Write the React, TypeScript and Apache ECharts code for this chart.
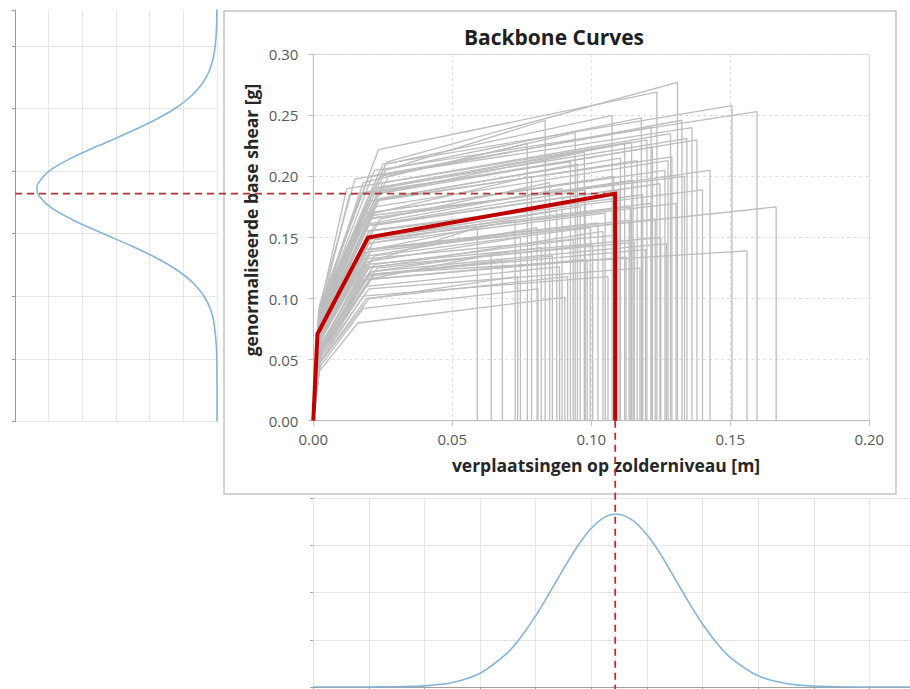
import React, { useEffect, useRef } from 'react';
import * as echarts from 'echarts';

// ---- main chart data ----
const xTickValues = [0, 0.05, 0.1, 0.15, 0.2];
const yTickValues = [0, 0.05, 0.1, 0.15, 0.2, 0.25, 0.3];

// red mean backbone curve: [displacement m, base shear g]
const redCurve: number[][] = [
  [0, 0],
  [0.0015, 0.071],
  [0.0197, 0.15],
  [0.1086, 0.186],
  [0.1086, 0],
];

// gray backbone curves: [x1, y1, x2, y2, xu, yu] (each drops to 0 at xu)
const grayCurves: number[][] = [
  [0.003, 0.062, 0.020, 0.130, 0.059, 0.158],
  [0.002, 0.055, 0.018, 0.115, 0.064, 0.136],
  [0.003, 0.058, 0.022, 0.120, 0.068, 0.131],
  [0.002, 0.066, 0.021, 0.140, 0.0726, 0.164],
  [0.003, 0.060, 0.019, 0.130, 0.0745, 0.150],
  [0.002, 0.088, 0.018, 0.195, 0.077, 0.227],
  [0.003, 0.078, 0.022, 0.170, 0.0785, 0.200],
  [0.002, 0.063, 0.020, 0.135, 0.0805, 0.158],
  [0.003, 0.092, 0.026, 0.205, 0.0834, 0.246],
  [0.002, 0.075, 0.024, 0.165, 0.085, 0.195],
  [0.003, 0.068, 0.020, 0.145, 0.0876, 0.172],
  [0.002, 0.050, 0.019, 0.110, 0.0886, 0.126],
  [0.002, 0.040, 0.016, 0.080, 0.0905, 0.101],
  [0.003, 0.090, 0.027, 0.200, 0.0942, 0.236],
  [0.002, 0.070, 0.021, 0.150, 0.096, 0.175],
  [0.002, 0.074, 0.020, 0.160, 0.0978, 0.189],
  [0.003, 0.064, 0.022, 0.135, 0.0996, 0.158],
  [0.002, 0.066, 0.018, 0.140, 0.1024, 0.162],
  [0.003, 0.058, 0.020, 0.125, 0.1042, 0.155],
  [0.003, 0.095, 0.026, 0.210, 0.1075, 0.250],
  [0.002, 0.074, 0.022, 0.160, 0.110, 0.189],
  [0.002, 0.086, 0.021, 0.190, 0.112, 0.227],
  [0.002, 0.065, 0.019, 0.140, 0.1136, 0.164],
  [0.002, 0.076, 0.020, 0.165, 0.115, 0.197],
  [0.003, 0.082, 0.023, 0.180, 0.1165, 0.213],
  [0.003, 0.092, 0.025, 0.205, 0.118, 0.248],
  [0.003, 0.086, 0.024, 0.190, 0.120, 0.230],
  [0.002, 0.084, 0.021, 0.185, 0.122, 0.224],
  [0.003, 0.098, 0.0235, 0.222, 0.1236, 0.269],
  [0.002, 0.073, 0.020, 0.160, 0.1247, 0.194],
  [0.002, 0.078, 0.019, 0.170, 0.1265, 0.205],
  [0.003, 0.080, 0.022, 0.175, 0.1276, 0.213],
  [0.002, 0.082, 0.020, 0.180, 0.129, 0.216],
  [0.003, 0.096, 0.0265, 0.212, 0.131, 0.277],
  [0.003, 0.090, 0.024, 0.200, 0.1326, 0.246],
  [0.002, 0.086, 0.022, 0.190, 0.1344, 0.231],
  [0.002, 0.092, 0.015, 0.198, 0.1362, 0.240],
  [0.002, 0.085, 0.017, 0.185, 0.138, 0.230],
  [0.002, 0.071, 0.020, 0.155, 0.140, 0.189],
  [0.002, 0.076, 0.018, 0.165, 0.1427, 0.205],
  [0.003, 0.094, 0.025, 0.210, 0.1506, 0.258],
  [0.002, 0.056, 0.020, 0.120, 0.156, 0.139],
  [0.003, 0.092, 0.022, 0.205, 0.1596, 0.253],
  [0.002, 0.064, 0.021, 0.140, 0.1665, 0.175],
  [0.002, 0.046, 0.019, 0.100, 0.0915, 0.118],
  [0.003, 0.057, 0.021, 0.122, 0.082, 0.142],
  [0.002, 0.055, 0.018, 0.118, 0.086, 0.135],
  [0.003, 0.058, 0.023, 0.125, 0.1005, 0.144],
  [0.002, 0.067, 0.019, 0.145, 0.105, 0.170],
  [0.002, 0.069, 0.021, 0.150, 0.1215, 0.178],
  [0.002, 0.059, 0.019, 0.128, 0.125, 0.150],
  [0.003, 0.056, 0.022, 0.120, 0.1195, 0.140],
  [0.002, 0.078, 0.020, 0.170, 0.108, 0.200],
  [0.002, 0.071, 0.018, 0.155, 0.1185, 0.185],
  [0.002, 0.082, 0.021, 0.180, 0.095, 0.210],
  [0.003, 0.083, 0.024, 0.182, 0.1105, 0.215],
  [0.002, 0.050, 0.020, 0.108, 0.1175, 0.125],
  [0.002, 0.064, 0.019, 0.138, 0.123, 0.165],
  [0.002, 0.074, 0.017, 0.160, 0.0895, 0.190],
  [0.002, 0.057, 0.021, 0.122, 0.127, 0.145],
  [0.003, 0.060, 0.022, 0.128, 0.0935, 0.148],
  [0.003, 0.068, 0.022, 0.148, 0.114, 0.175],
  [0.002, 0.047, 0.018, 0.102, 0.106, 0.118],
  [0.003, 0.085, 0.023, 0.186, 0.0975, 0.220],
  [0.003, 0.088, 0.025, 0.195, 0.1285, 0.235],
  [0.002, 0.077, 0.021, 0.168, 0.1335, 0.200],
  [0.002, 0.091, 0.020, 0.200, 0.1215, 0.240],
  [0.002, 0.053, 0.017, 0.115, 0.1125, 0.134],
  [0.002, 0.046, 0.020, 0.100, 0.0735, 0.118],
  [0.002, 0.043, 0.018, 0.092, 0.0808, 0.108],
  [0.002, 0.088, 0.012, 0.190, 0.1145, 0.228],
  [0.002, 0.084, 0.013, 0.185, 0.0925, 0.212],
  [0.002, 0.062, 0.017, 0.132, 0.1092, 0.152],
  [0.003, 0.060, 0.020, 0.126, 0.1155, 0.146],
  [0.002, 0.069, 0.019, 0.148, 0.1305, 0.178],
  [0.002, 0.054, 0.021, 0.116, 0.0985, 0.132],
];

// ---- left panel: distribution of base shear (rotated) ----
const leftShear = [
  0, 0.02, 0.04, 0.06, 0.08, 0.09, 0.1, 0.11, 0.12, 0.13, 0.14, 0.15, 0.16, 0.17, 0.18, 0.186,
  0.19, 0.2, 0.21, 0.22, 0.23, 0.24, 0.25, 0.26, 0.27, 0.28, 0.29, 0.3, 0.31, 0.32, 0.33,
];
const leftDensity = [
  0, 0, 0.005, 0.038, 0.196, 0.4, 0.77, 1.37, 2.27, 3.51, 5.04, 6.75, 8.41, 9.77, 10.56, 10.7,
  10.64, 9.98, 8.72, 7.09, 5.38, 3.8, 2.49, 1.53, 0.87, 0.46, 0.23, 0.106, 0.045, 0.018, 0.006,
];

// ---- bottom panel: distribution of displacement ----
const bottomDisp = [
  0, 0.01, 0.02, 0.03, 0.04, 0.05, 0.06, 0.07, 0.075, 0.08, 0.085, 0.09, 0.095, 0.1, 0.105, 0.109,
  0.115, 0.12, 0.125, 0.13, 0.135, 0.14, 0.145, 0.15, 0.16, 0.17, 0.18, 0.19, 0.2, 0.21, 0.22,
];
const bottomDensity = [
  0, 0, 0, 0.03, 0.12, 0.47, 1.46, 3.67, 5.42, 7.55, 9.98, 12.5, 14.9, 16.8, 18.0, 18.3,
  17.6, 16.1, 14.0, 11.5, 8.99, 6.66, 4.68, 3.12, 1.18, 0.37, 0.09, 0.02, 0, 0, 0,
];

const TITLE = 'Backbone Curves';
const X_NAME = 'verplaatsingen op zolderniveau [m]';
const Y_NAME = 'genormaliseerde base shear [g]';

const FONT = '"Open Sans", "Liberation Sans", sans-serif';

export default function App() {
  const ref = useRef<HTMLDivElement>(null);

  useEffect(() => {
    document.body.style.margin = '0';
    const el = ref.current;
    if (!el) return;
    const chart = echarts.init(el, null, { renderer: 'svg' });

    const fmt = (v: number) => v.toFixed(2);

    const graySeries = grayCurves.map((c) => ({
      type: 'line',
      xAxisIndex: 0,
      yAxisIndex: 0,
      data: [[0, 0], [c[0], c[1]], [c[2], c[3]], [c[4], c[5]], [c[4], 0]],
      symbol: 'none',
      silent: true,
      z: 2,
      lineStyle: { color: '#bdbdbd', width: 1.3 },
    }));

    const option: any = {
      animation: false,
      grid: [
        { left: 313.3, top: 54.3, width: 556, height: 366.4, show: true, borderColor: '#d0d0d0', borderWidth: 1, backgroundColor: 'transparent' },
        { left: 15, top: 10, width: 202, height: 411.5 },
        { left: 313.3, top: 498, width: 596.7, height: 189 },
      ],
      xAxis: [
        {
          gridIndex: 0, type: 'value',
          min: xTickValues[0], max: xTickValues[xTickValues.length - 1], interval: xTickValues[1] - xTickValues[0],
          axisLine: { show: true, onZero: false, lineStyle: { color: '#bfbfbf', width: 1 } },
          axisTick: { show: true, length: 5, lineStyle: { color: '#bfbfbf' } },
          axisLabel: { formatter: fmt, color: '#595959', fontSize: 15, fontFamily: FONT, margin: 11 },
          splitLine: { show: true, lineStyle: { color: '#dedede', type: [3, 3] } },
        },
        {
          gridIndex: 1, type: 'value', inverse: true, min: 0, max: 12, interval: 2,
          axisLine: { show: false, onZero: false },
          axisTick: { show: false },
          axisLabel: { show: false },
          splitLine: { show: true, lineStyle: { color: '#e6e6e6' } },
        },
        {
          gridIndex: 2, type: 'value', min: 0, max: 0.2146, interval: 0.02,
          axisLine: { show: true, onZero: false, lineStyle: { color: '#a0a0a0' } },
          axisTick: { show: true, length: 3, lineStyle: { color: '#a0a0a0' } },
          axisLabel: { show: false },
          splitLine: { show: true, showMaxLine: false, lineStyle: { color: '#e6e6e6' } },
        },
      ],
      yAxis: [
        {
          gridIndex: 0, type: 'value', position: 'left',
          min: yTickValues[0], max: yTickValues[yTickValues.length - 1], interval: yTickValues[1] - yTickValues[0],
          axisLine: { show: true, onZero: false, lineStyle: { color: '#bfbfbf' } },
          axisTick: { show: true, length: 5, lineStyle: { color: '#bfbfbf' } },
          axisLabel: { formatter: fmt, color: '#595959', fontSize: 15, fontFamily: FONT, margin: 15 },
          splitLine: { show: true, lineStyle: { color: '#dedede', type: [3, 3] } },
        },
        {
          gridIndex: 1, type: 'value', position: 'left', min: 0, max: 0.3287, interval: 0.05,
          axisLine: { show: true, onZero: false, lineStyle: { color: '#9a9a9a' } },
          axisTick: { show: true, length: 3, lineStyle: { color: '#9a9a9a' } },
          axisLabel: { show: false },
          splitLine: { show: true, showMaxLine: false, lineStyle: { color: '#e6e6e6' } },
        },
        {
          gridIndex: 2, type: 'value', position: 'left', min: 0, max: 20, interval: 5,
          axisLine: { show: false, onZero: false },
          axisTick: { show: true, length: 3, lineStyle: { color: '#a0a0a0' } },
          axisLabel: { show: false },
          splitLine: { show: true, lineStyle: { color: '#e6e6e6' } },
        },
      ],
      series: [
        ...graySeries,
        {
          type: 'line', xAxisIndex: 0, yAxisIndex: 0,
          data: redCurve, symbol: 'none', silent: true, z: 4,
          lineStyle: { color: '#c00000', width: 4, join: 'miter' },
        },
        {
          type: 'line', xAxisIndex: 1, yAxisIndex: 1,
          data: leftShear.map((s, i) => [leftDensity[i], s]),
          symbol: 'none', smooth: 0.3, silent: true, z: 3,
          lineStyle: { color: '#86b4d8', width: 1.6 },
        },
        {
          type: 'line', xAxisIndex: 2, yAxisIndex: 2,
          data: bottomDisp.map((d, i) => [d, bottomDensity[i]]),
          symbol: 'none', smooth: 0.3, silent: true, z: 3,
          lineStyle: { color: '#86b4d8', width: 1.6 },
        },
      ],
    };

    chart.setOption(option);

    const corner = chart.convertToPixel({ gridIndex: 0 }, [redCurve[3][0], redCurve[3][1]]) as number[];
    const leftStart = chart.convertToPixel({ xAxisIndex: 1 }, 12) as number;
    const axisY = chart.convertToPixel({ yAxisIndex: 0 }, 0) as number;

    const dashStyle = { stroke: '#b8312f', lineWidth: 1.8, lineDash: [7, 5] };

    chart.setOption({
      graphic: [
        {
          type: 'rect', z: -10, silent: true,
          shape: { x: 224, y: 11, width: 672, height: 483 },
          style: { fill: '#ffffff', stroke: '#c4c4c4', lineWidth: 1.5 },
        },
        {
          type: 'text', z: 20, silent: true, x: 554, y: 37,
          style: { text: TITLE, font: `bold 21px ${FONT}`, fill: '#1f1f1f', align: 'center', verticalAlign: 'middle' },
        },
        {
          type: 'text', z: 20, silent: true, x: 606, y: 465,
          style: { text: X_NAME, font: `bold 17.5px ${FONT}`, fill: '#262626', align: 'center', verticalAlign: 'middle' },
        },
        {
          type: 'text', z: 20, silent: true, x: 251, y: 220, rotation: Math.PI / 2,
          style: { text: Y_NAME, font: `bold 17.5px ${FONT}`, fill: '#262626', align: 'center', verticalAlign: 'middle' },
        },
        {
          type: 'line', z: 50, silent: true,
          shape: { x1: leftStart, y1: corner[1], x2: corner[0], y2: corner[1] },
          style: dashStyle,
        },
        {
          type: 'line', z: 50, silent: true,
          shape: { x1: corner[0], y1: axisY, x2: corner[0], y2: 689 },
          style: dashStyle,
        },
      ],
    });

    return () => {
      chart.dispose();
    };
  }, []);

  return <div ref={ref} style={{ width: 910, height: 689 }} />;
}
